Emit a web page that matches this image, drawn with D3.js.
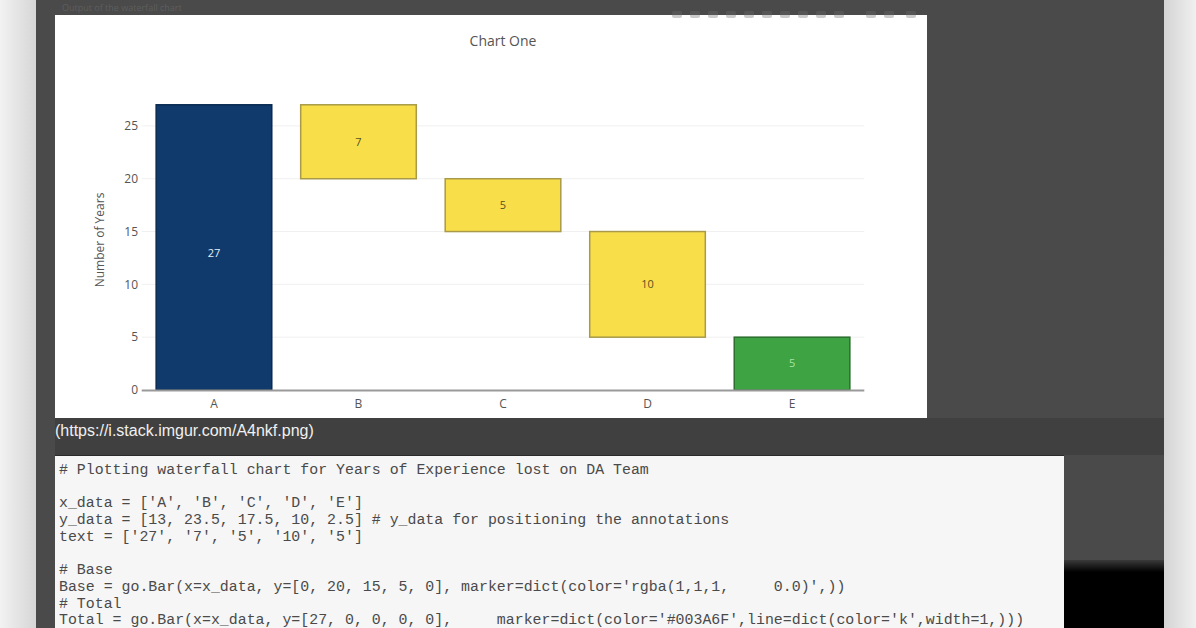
<!DOCTYPE html>
<html><head><meta charset="utf-8">
<script src="https://cdn.jsdelivr.net/npm/d3@7"></script>
<style>
html,body{margin:0;padding:0;width:1196px;height:628px;overflow:hidden;background:#474747;}
svg{display:block;}
</style></head>
<body>
<svg id="c" width="1196" height="628"></svg>
<script>
const categories = ['A', 'B', 'C', 'D', 'E'];
const baseValues = [0, 20, 15, 5, 0];
const totalValues = [27, 0, 0, 0, 0];
const decreaseValues = [0, 7, 5, 10, 0];
const remainingValues = [0, 0, 0, 0, 5];
const annotationY = [13, 23.5, 17.5, 10, 2.5];
const annotationText = ['27', '7', '5', '10', '5'];
const yTicks = [0, 5, 10, 15, 20, 25];
const chartTitle = 'Chart One';
const yTitle = 'Number of Years';
const caption = '(https://i.stack.imgur.com/A4nkf.png)';
const codeLines = [
  "# Plotting waterfall chart for Years of Experience lost on DA Team",
  "",
  "x_data = ['A', 'B', 'C', 'D', 'E']",
  "y_data = [13, 23.5, 17.5, 10, 2.5] # y_data for positioning the annotations",
  "text = ['27', '7', '5', '10', '5']",
  "",
  "# Base",
  "Base = go.Bar(x=x_data, y=[0, 20, 15, 5, 0], marker=dict(color='rgba(1,1,1,     0.0)',))",
  "# Total",
  "Total = go.Bar(x=x_data, y=[27, 0, 0, 0, 0],     marker=dict(color='#003A6F',line=dict(color='k',width=1,)))"
];

const svg = d3.select('#c');
const defs = svg.append('defs');
const g2 = defs.append('linearGradient').attr('id','frameL').attr('x1',0).attr('y1',0).attr('x2',1).attr('y2',0);
g2.append('stop').attr('offset','0%').attr('stop-color','#f2f2f2');
g2.append('stop').attr('offset','100%').attr('stop-color','#d6d6d6');
const g3 = defs.append('linearGradient').attr('id','frameR').attr('x1',0).attr('y1',0).attr('x2',1).attr('y2',0);
g3.append('stop').attr('offset','0%').attr('stop-color','#d4d4d4');
g3.append('stop').attr('offset','100%').attr('stop-color','#f0f0f0');
const g4 = defs.append('linearGradient').attr('id','blk').attr('x1',0).attr('y1',0).attr('x2',0).attr('y2',1);
g4.append('stop').attr('offset','0%').attr('stop-color','#3a3a3a');
g4.append('stop').attr('offset','100%').attr('stop-color','#000');
defs.append('filter').attr('id','blur').append('feGaussianBlur').attr('stdDeviation',0.7);

// page backdrop
svg.append('rect').attr('x',36).attr('y',0).attr('width',1128).attr('height',628).attr('fill','#4a4a4a');
svg.append('rect').attr('x',55).attr('y',418).attr('width',1109).attr('height',37).attr('fill','#404040');
svg.append('rect').attr('x',1064).attr('y',560).attr('width',100).attr('height',12).attr('fill','url(#blk)');
svg.append('rect').attr('x',1064).attr('y',572).attr('width',100).attr('height',56).attr('fill','#000');
svg.append('rect').attr('x',0).attr('y',0).attr('width',36).attr('height',628).attr('fill','url(#frameL)');
svg.append('rect').attr('x',1164).attr('y',0).attr('width',32).attr('height',628).attr('fill','url(#frameR)');

// faint text at top
svg.append('text').attr('x',62).attr('y',11).attr('fill','#5e5e5e').attr('font-family','Open Sans').attr('font-size',9)
  .text('Output of the waterfall chart');

// chart panel
svg.append('rect').attr('x',55).attr('y',15).attr('width',872).attr('height',403).attr('fill','#ffffff');

// modebar-ish faint icons
const mb = svg.append('g').attr('fill','#6e6e6e').attr('opacity',0.35).attr('filter','url(#blur)');
[672,690,708,726,744,762,780,798,816,834,866,884,906].forEach(x=>{
  mb.append('rect').attr('x',x).attr('y',11).attr('width',10).attr('height',7).attr('rx',2);
});

const x = d3.scaleBand().domain(categories).range([141.7, 864.3]).paddingInner(0.2).paddingOuter(0.1);
const y = d3.scaleLinear().domain([0, 28.4]).range([390, 90]);

const plot = svg.append('g');
// gridlines
plot.selectAll('.grid').data(yTicks.filter(d=>d>0)).join('line')
  .attr('x1',141.7).attr('x2',864.3).attr('y1',d=>y(d)).attr('y2',d=>y(d))
  .attr('stroke','#f0f0f0').attr('stroke-width',1);

const font = "'Open Sans', 'Liberation Sans', sans-serif";
// title
svg.append('text').attr('x',503).attr('y',46).attr('text-anchor','middle').attr('font-family',font)
  .attr('font-size',14).attr('fill','#555').text(chartTitle);

// bars
function drawSeries(vals, bases, fill, stroke){
  plot.selectAll(null).data(categories.map((c,i)=>({c, v:vals[i], b:bases[i]})).filter(d=>d.v>0)).join('rect')
    .attr('x',d=>x(d.c)).attr('width',x.bandwidth())
    .attr('y',d=>y(d.b+d.v)).attr('height',d=>y(d.b)-y(d.b+d.v))
    .attr('fill',fill).attr('stroke',stroke).attr('stroke-width',1.5);
}
const zeros = categories.map(()=>0);
drawSeries(totalValues, zeros, '#0f3a6b', '#0a2a50');
drawSeries(decreaseValues, baseValues, '#f8df4a', '#a89a48');
drawSeries(remainingValues, zeros, '#3da343', '#2b6e2e');

// x axis line
plot.append('line').attr('x1',141.7).attr('x2',864.3).attr('y1',y(0)+0.5).attr('y2',y(0)+0.5)
  .attr('stroke','#9a9a9a').attr('stroke-width',2);

// y tick labels
svg.selectAll('.ytl').data(yTicks).join('text')
  .attr('x',138).attr('y',d=>y(d)).attr('dy','0.35em').attr('text-anchor','end')
  .attr('font-family',font).attr('font-size',12).attr('fill','#555').text(d=>d);
// x tick labels
svg.selectAll('.xtl').data(categories).join('text')
  .attr('x',d=>x(d)+x.bandwidth()/2).attr('y',408).attr('text-anchor','middle')
  .attr('font-family',font).attr('font-size',12).attr('fill','#555').text(d=>d);
// y title
svg.append('text').attr('transform','translate(104,240) rotate(-90)').attr('text-anchor','middle')
  .attr('font-family',font).attr('font-size',12).attr('fill','#555').text(yTitle);

// annotations
const annColors = ['#e6eef8','#5a4f1e','#5a4f1e','#5a4f1e','#a9e2a4'];
svg.selectAll('.ann').data(categories).join('text')
  .attr('x',d=>x(d)+x.bandwidth()/2).attr('y',(d,i)=>y(annotationY[i])).attr('dy','0.35em')
  .attr('text-anchor','middle').attr('font-family',font).attr('font-size',11)
  .attr('fill',(d,i)=>annColors[i]).text((d,i)=>annotationText[i]);

// caption
svg.append('text').attr('x',55).attr('y',436).attr('font-family',"'Liberation Sans', Arial, sans-serif")
  .attr('font-size',16).attr('fill','#f0f0f0').text(caption);

// code box
svg.append('rect').attr('x',55).attr('y',455).attr('width',1009).attr('height',180).attr('fill','#f6f6f6');
svg.append('line').attr('x1',55).attr('x2',1064).attr('y1',455.5).attr('y2',455.5).attr('stroke','#2a2a2a').attr('stroke-width',1);
svg.selectAll('.code').data(codeLines).join('text')
  .attr('x',59).attr('y',(d,i)=>474+i*16.7).attr('font-family',"'Liberation Mono', 'DejaVu Sans Mono', monospace")
  .attr('font-size',14.9).attr('fill','#4a4a4a').attr('xml:space','preserve').style('white-space','pre').text(d=>d);
</script>
</body></html>
